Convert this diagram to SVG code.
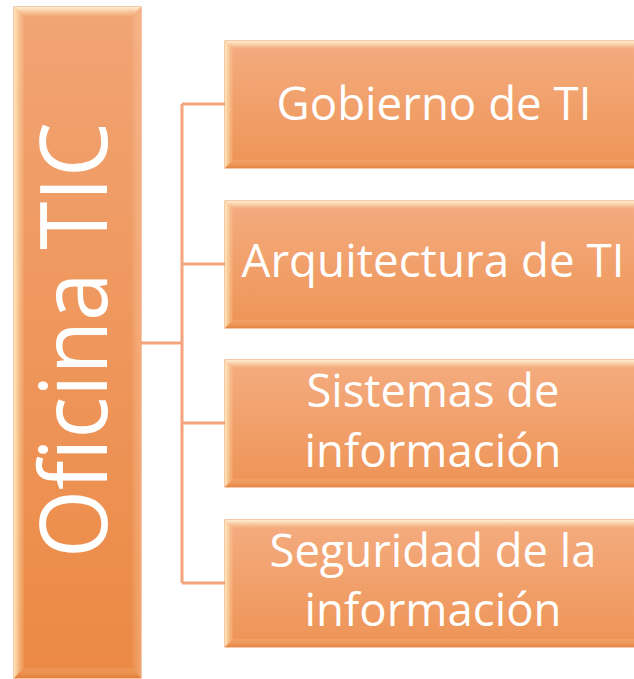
<svg xmlns="http://www.w3.org/2000/svg" width="634" height="679" viewBox="0 0 634 679">
<defs>
<linearGradient id="gMain" x1="0" y1="0" x2="0" y2="1"><stop offset="0" stop-color="#F2A474"/><stop offset="1" stop-color="#EB8944"/></linearGradient>
<linearGradient id="gChild" x1="0" y1="0" x2="0" y2="1"><stop offset="0" stop-color="#F4AC80"/><stop offset="1" stop-color="#EE9456"/></linearGradient>
<linearGradient id="bTop" x1="0" y1="0" x2="0" y2="1"><stop offset="0" stop-color="#FFF4D8" stop-opacity="0.95"/><stop offset="1" stop-color="#FFE0B8" stop-opacity="0"/></linearGradient>
<linearGradient id="bLeft" x1="0" y1="0" x2="1" y2="0"><stop offset="0" stop-color="#FFF0C4" stop-opacity="0.9"/><stop offset="1" stop-color="#FFD8A8" stop-opacity="0.1"/></linearGradient>
<linearGradient id="bRight" x1="0" y1="0" x2="1" y2="0"><stop offset="0" stop-color="#FFFFFF" stop-opacity="0"/><stop offset="1" stop-color="#FFD2A8" stop-opacity="0.35"/></linearGradient>
<linearGradient id="bBot" x1="0" y1="0" x2="0" y2="1"><stop offset="0" stop-color="#FFD0A0" stop-opacity="0.15"/><stop offset="1" stop-color="#D8702E" stop-opacity="0.45"/></linearGradient>
<style>
.edge{stroke:#EE8F55;stroke-width:1;}
.conn{fill:none;stroke:#F3A47C;stroke-width:3;}
.t{fill:#FFFFFF;font-family:"Open Sans","Noto Sans",sans-serif;}
.ct{font-size:46px;text-anchor:middle;}
</style>
</defs>
<g id="connectors">
<path class="conn" d="M141 343 H182 M182 104 V583 M182 104 H225 M182 264 H225 M182 423 H225 M182 583 H225"/>
</g>
<g id="main">
<rect x="14" y="7" width="127" height="671" fill="url(#gMain)" class="edge"/>
<polygon points="14,7 141,7 131,17 24,17" fill="url(#bTop)"/>
<polygon points="14,7 24,17 24,668 14,678" fill="url(#bLeft)"/>
<polygon points="141,7 141,678 131,668 131,17" fill="url(#bRight)"/>
<polygon points="14,678 24,668 131,668 141,678" fill="url(#bBot)"/>
<text class="t" transform="translate(107,558) rotate(-90)" font-size="94" textLength="436" lengthAdjust="spacingAndGlyphs">Oficina TIC</text>
</g>
<g id="n1">
<rect x="225" y="41" width="420" height="127" fill="url(#gChild)" class="edge"/>
<polygon points="225,41 645,41 637,49 233,49" fill="url(#bTop)"/>
<polygon points="225,41 233,49 233,160 225,168" fill="url(#bLeft)"/>
<polygon points="225,168 233,160 637,160 645,168" fill="url(#bBot)"/>
<text class="t ct" x="434" y="120" textLength="315" lengthAdjust="spacingAndGlyphs">Gobierno de TI</text>
</g>
<g id="n2">
<rect x="225" y="201" width="420" height="127" fill="url(#gChild)" class="edge"/>
<polygon points="225,201 645,201 637,209 233,209" fill="url(#bTop)"/>
<polygon points="225,201 233,209 233,320 225,328" fill="url(#bLeft)"/>
<polygon points="225,328 233,320 637,320 645,328" fill="url(#bBot)"/>
<text class="t ct" x="433" y="277" textLength="383" lengthAdjust="spacingAndGlyphs">Arquitectura de TI</text>
</g>
<g id="n3">
<rect x="225" y="360" width="420" height="127" fill="url(#gChild)" class="edge"/>
<polygon points="225,360 645,360 637,368 233,368" fill="url(#bTop)"/>
<polygon points="225,360 233,368 233,479 225,487" fill="url(#bLeft)"/>
<polygon points="225,487 233,479 637,479 645,487" fill="url(#bBot)"/>
<text class="t ct" x="433" y="407" textLength="253" lengthAdjust="spacingAndGlyphs">Sistemas de</text>
<text class="t ct" x="433" y="467" textLength="257" lengthAdjust="spacingAndGlyphs">información</text>
</g>
<g id="n4">
<rect x="225" y="520" width="420" height="127" fill="url(#gChild)" class="edge"/>
<polygon points="225,520 645,520 637,528 233,528" fill="url(#bTop)"/>
<polygon points="225,520 233,528 233,639 225,647" fill="url(#bLeft)"/>
<polygon points="225,647 233,639 637,639 645,647" fill="url(#bBot)"/>
<text class="t ct" x="433" y="567" textLength="327" lengthAdjust="spacingAndGlyphs">Seguridad de la</text>
<text class="t ct" x="433" y="626" textLength="257" lengthAdjust="spacingAndGlyphs">información</text>
</g>
</svg>
